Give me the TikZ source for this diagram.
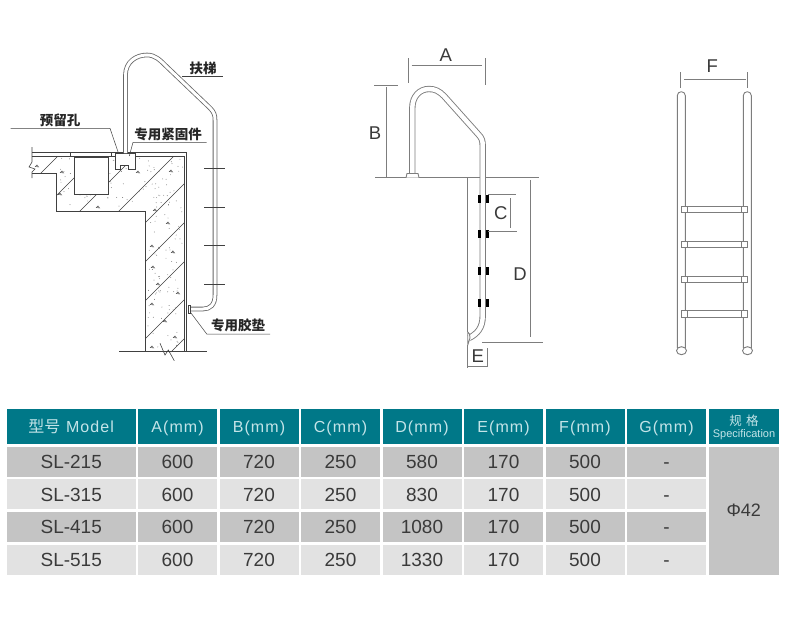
\documentclass[tikz,border=0pt]{standalone}
\usepackage{fontspec}
\setmainfont{Liberation Sans}
\newfontfamily\cjk{Noto Sans CJK SC}
\newfontfamily\headfont[LetterSpace=7]{Liberation Sans}
\usetikzlibrary{matrix,positioning,fit}
\definecolor{headteal}{RGB}{0,120,136}
\definecolor{headtext}{RGB}{196,228,232}
\definecolor{rowdark}{RGB}{196,196,196}
\definecolor{rowlight}{RGB}{226,226,226}
\definecolor{inkgray}{RGB}{58,58,58}
\definecolor{railgray}{RGB}{125,125,125}
\tikzset{
    plan/.style={draw=black!75, line width=0.6pt},
    rail/.style={draw=black!60, line width=0.8pt, double=white, double distance=3pt},
    bigrail/.style={draw=railgray, line width=0.9pt, double=white, double distance=4.5pt},
    dim/.style={draw=railgray, line width=0.9pt},
    dimlabel/.style={font=\fontsize{18.5}{18.5}\selectfont, text=inkgray, inner sep=0pt},
    callout/.style={font=\fontsize{13.5}{14}\selectfont\cjk\bfseries, text=black!85, inner sep=0pt}
}
\begin{document}
\begin{tikzpicture}[x=1pt, y=-1pt]
    \useasboundingbox (0,0) rectangle (800,619);

    % section through the pool edge
    \begin{scope}
        \clip (32,156) -- (184,156) -- (184,352) -- (146,352) -- (146,211) -- (56,211) -- (56,173) -- (32,173) -- cycle;
        \foreach \c in {214,252,291,330,368,407,446,484,523}
            \draw[plan, line width=0.5pt] (\c-400,400) -- (\c,0);
        \pgfmathsetseed{11}
        \foreach \k in {1,...,110} {
            \pgfmathsetmacro\dotx{148+rnd*35}
            \pgfmathsetmacro\doty{158+rnd*192}
            \fill[black!55] (\dotx,\doty) circle (0.45);
        }
        \foreach \k in {1,...,60} {
            \pgfmathsetmacro\dotx{60+rnd*90}
            \pgfmathsetmacro\doty{158+rnd*52}
            \fill[black!55] (\dotx,\doty) circle (0.45);
        }
        \foreach \p/\q in {37/165, 62/171, 60/193, 98/206, 138/171, 171/170, 155/209, 168/222, 152/245, 173/251, 153/266, 158/283, 178/292, 152/303, 165/320, 175/336, 152/346}
            \draw[black!70, line width=0.4pt] (\p,\q) -- ++(-1.6,1.6) -- ++(3.2,0.4) -- cycle;
    \end{scope}
    \draw[plan] (32,147) -- (32,162) -- (29,167) -- (35,169) -- (32,172) -- (32,178);
    \draw[plan] (32,152.3) -- (186.7,152.3) -- (186.7,351.7);
    \draw[plan] (32,156) -- (184,156) -- (184,351.7);
    \draw[plan] (32,173) -- (56,173) -- (56,211) -- (145.7,211) -- (145.7,351.7);
    \draw[plan] (119,351.7) -- (207,351.7);
    \draw[plan] (160,343.3) -- (165,355) -- (168.3,350) -- (174.3,360.7);
    \draw[plan, fill=white] (74,157) rectangle (108.7,194);
    \draw[plan] (70.7,152.3) -- (70.7,156) (111.7,152.3) -- (111.7,156);
    \draw[plan, fill=white] (115,153) -- (115,169.3) -- (120.7,169.3) -- (120.7,165) -- (128,165) -- (128,169.3) -- (135.7,169.3) -- (135.7,153) -- cycle;

    % handrail fixed on the wall
    \draw[rail] (125.5,153) -- (125.5,75) .. controls (125.5,62) and (136,55) .. (147,55)
        .. controls (155,55) and (160,60) .. (166,66) -- (210,108)
        .. controls (214,112) and (215,115) .. (215,120) -- (215,295)
        .. controls (215,305) and (210,309) .. (203,309) -- (190,309);
    \draw[plan, fill=white] (188,305) rectangle (190.7,313);
    \foreach \y in {168.3,207,245.7,284.3}
        \draw[plan, line width=0.5pt] (204,\y) -- (225,\y);

    \node[callout] (rail label) at (203,68) {扶梯};
    \coordinate (rail start) at (182,76.7);
    \coordinate (rail end) at (222.7,76.7);
    \draw[plan, line width=0.5pt] (rail start) -- (rail end);

    \node[callout] (hole label) at (60,120) {预留孔};
    \coordinate (hole start) at (10.7,128.3);
    \coordinate (hole knee) at (110,128.3);
    \coordinate (hole tip) at (118.3,152.7);
    \draw[plan, line width=0.5pt] (hole start) -- (hole knee) -- (hole tip);

    \node[callout] (fixing label) at (168,134) {专用紧固件};
    \coordinate (fixing start) at (206.7,142.3);
    \coordinate (fixing knee) at (133,142.3);
    \coordinate (fixing tip) at (129.3,156);
    \draw[plan, line width=0.5pt] (fixing start) -- (fixing knee) -- (fixing tip);

    \node[callout] (pad label) at (238,325) {专用胶垫};
    \coordinate (pad start) at (270,334);
    \coordinate (pad knee) at (206.7,334);
    \coordinate (pad tip) at (190,311.7);
    \draw[plan, line width=0.5pt] (pad start) -- (pad knee) -- (pad tip);

    % side view with dimensions
    \draw[dim] (375,177.7) -- (539,177.7);
    \draw[bigrail] (412.3,173) -- (412.3,108) .. controls (412.3,96) and (420,89) .. (429,89)
        .. controls (435,89) and (439,91) .. (444,96) -- (478,134)
        .. controls (482,138) and (482.7,141) .. (482.7,146) -- (482.7,316)
        .. controls (482.7,328) and (477,334) .. (469,338);
    \draw[dim, fill=white] (406,177.7) -- (407,173.5) -- (418,173.5) -- (419,177.7);
    \draw[dim, fill=white] (467.7,332) -- (469.5,334) -- (470,338) -- (467.7,345) -- cycle;
    \foreach \y in {198.7,234.3,270.7,303.3} {
        \fill[black] (478.2,\y-4) rectangle (480.6,\y+4);
        \fill[black] (486.2,\y-4) rectangle (488.6,\y+4);
    }

    \draw[dim] (408.7,58) -- (408.7,83) (485,58) -- (485,85) (411.7,65.7) -- (482,65.7);
    \node[dimlabel] (dim A) at (445.7,55) {A};
    \draw[dim] (374,85.7) -- (398,85.7) (386,87) -- (386,176.7);
    \node[dimlabel] (dim B) at (375,133) {B};
    \draw[dim] (488,194.3) -- (516,194.3) (488,231) -- (516.5,231) (510.3,198) -- (510.3,228);
    \node[dimlabel] (dim C) at (500.7,212.7) {C};
    \draw[dim] (530.3,180) -- (530.3,336.7) (482,342.3) -- (542.7,342.3);
    \node[dimlabel] (dim D) at (520,274) {D};
    \draw[dim] (467.7,178) -- (467.7,332) (467.7,345) -- (467.7,368) (487,348) -- (487,367) (467.7,366) -- (487,366);
    \node[dimlabel] (dim E) at (477.7,356) {E};

    % front view with the treads
    \foreach \x in {677.3,743.3} {
        \draw[dim, rounded corners=3.9pt] (\x,348) -- (\x,91.7) -- (\x+8,91.7) -- (\x+8,348);
        \draw[dim, fill=white] (\x+4.2,350.7) ellipse (5 and 4);
    }
    \foreach \y in {206,241,276,310.7} {
        \draw[dim, fill=white] (686,\y) rectangle (742.7,\y+6.5);
        \draw[dim, fill=white] (681.7,\y) rectangle (687.3,\y+6.5);
        \draw[dim, fill=white] (741.3,\y) rectangle (747,\y+6.5);
    }
    \draw[dim] (680.7,72) -- (680.7,88) (747.7,72) -- (747.7,88) (684,79.3) -- (745.7,79.3);
    \node[dimlabel] (dim F) at (712.3,65.7) {F};

    \matrix (spec table) [matrix of nodes, nodes in empty cells, anchor=north west,
        nodes={minimum width=79pt, minimum height=30pt, inner sep=0pt, anchor=center,
            text height=13.5pt, text depth=0pt,
            text=inkgray, font=\fontsize{19}{19}\selectfont},
        column sep=2.5pt, row sep=2.7pt,
        inner sep=0pt, outer sep=0pt,
        column 1/.style={nodes={minimum width=128.5pt}},
        column 9/.style={nodes={minimum width=70.5pt}},
        row 1/.style={nodes={fill=headteal, text=headtext, minimum height=35pt,
            text height=11.5pt, font=\fontsize{16}{16}\headfont}},
        row 2/.style={nodes={fill=rowdark}},
        row 3/.style={nodes={fill=rowlight}},
        row 4/.style={nodes={fill=rowdark}},
        row 5/.style={nodes={fill=rowlight}}
    ] at (7,409) {
        {\cjk 型号} Model & A(mm) & B(mm) & C(mm) & D(mm) & E(mm) & F(mm) & G(mm) & \\
        SL-215 & 600 & 720 & 250 & 580 & 170 & 500 & - & \\
        SL-315 & 600 & 720 & 250 & 830 & 170 & 500 & - & \\
        SL-415 & 600 & 720 & 250 & 1080 & 170 & 500 & - & \\
        SL-515 & 600 & 720 & 250 & 1330 & 170 & 500 & - & \\
    };
    \node[fit=(spec table-2-9)(spec table-5-9), fill=rowdark, inner sep=0pt, outer sep=0pt] (spec cell) {};
    \node[text=inkgray, font=\fontsize{18}{18}\selectfont] (spec value) at (spec cell) {Φ42};
    \node[text=headtext, inner sep=0pt, font=\fontsize{12.5}{13}\cjk] (spec title) at (744,421) {规\,\,格};
    \node[text=headtext, inner sep=0pt, font=\fontsize{11}{12}\selectfont] (spec word) at (744,435) {Specification};
\end{tikzpicture}
\end{document}
